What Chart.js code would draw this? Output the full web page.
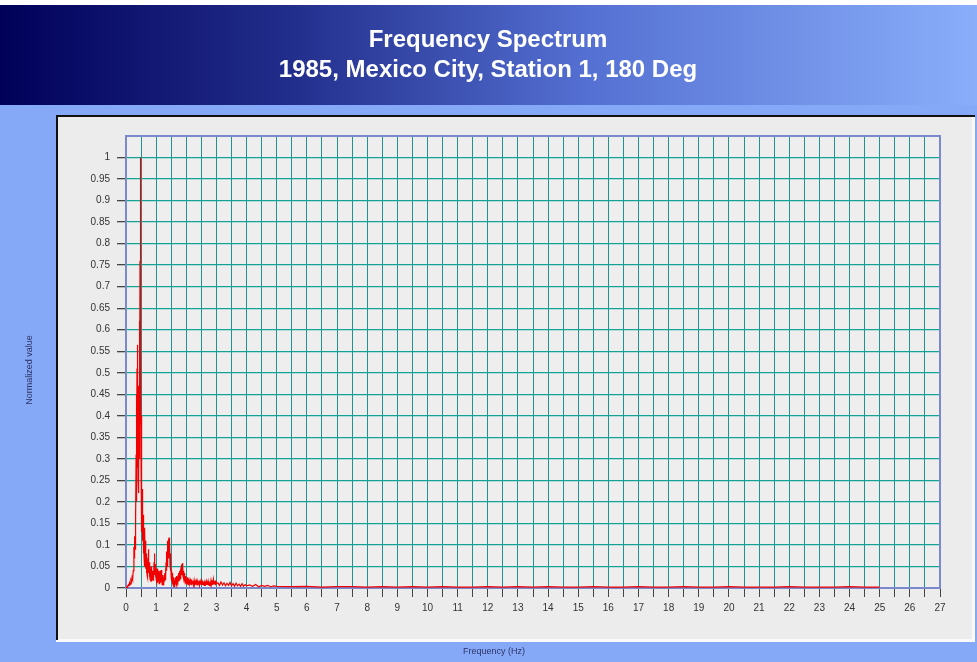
<!DOCTYPE html>
<html>
<head>
<meta charset="utf-8">
<title>Frequency Spectrum</title>
<script src="https://cdn.jsdelivr.net/npm/chart.js@4.4.1/dist/chart.umd.min.js"></script>
<style>
  html, body { margin: 0; padding: 0; background: #86a9f7; }
  #wrap { width: 977px; height: 662px; }
</style>
</head>
<body>
<div id="wrap"><canvas id="spectrum" width="977" height="662"></canvas></div>
<script>
// Header text
const titleLines = ['Frequency Spectrum', '1985, Mexico City, Station 1, 180 Deg'];
const xAxisTitle = 'Frequency (Hz)';
const yAxisTitle = 'Normalized value';

// Axis ranges and tick steps
const xMin = 0, xMax = 27, xStep = 0.5;
const yMin = 0, yMax = 1.05, yStep = 0.05, yLabelMax = 1;

// Spectrum samples: frequency (Hz)
const freqHz = [
  0.00, 0.02, 0.04, 0.06, 0.08, 0.10, 0.12, 0.14, 0.16, 0.18, 0.20, 0.22, 0.24,
  0.260, 0.265, 0.270, 0.275, 0.280, 0.285, 0.290, 0.295, 0.300, 0.305,
  0.310, 0.315, 0.320, 0.325, 0.330, 0.335, 0.340, 0.345, 0.350, 0.355,
  0.360, 0.365, 0.370, 0.375, 0.380, 0.385, 0.390, 0.395, 0.400, 0.405,
  0.410, 0.415, 0.420, 0.425, 0.430, 0.435, 0.440, 0.445, 0.450, 0.455,
  0.460, 0.465, 0.470, 0.475, 0.480, 0.485, 0.490, 0.495, 0.500, 0.505,
  0.510, 0.515, 0.520, 0.525, 0.530, 0.535, 0.540, 0.545, 0.550, 0.555,
  0.560, 0.565, 0.570, 0.575, 0.580, 0.585, 0.590, 0.595, 0.600, 0.605,
  0.610, 0.615, 0.620,
  0.63, 0.64, 0.65, 0.66, 0.67, 0.68, 0.69, 0.70, 0.71, 0.72,
  0.73, 0.74, 0.75, 0.76, 0.77, 0.78, 0.79, 0.80, 0.81, 0.82,
  0.83, 0.84, 0.85, 0.86, 0.87, 0.88, 0.89, 0.90, 0.91, 0.92,
  0.93, 0.94, 0.95, 0.96, 0.97, 0.98, 0.99, 1.00, 1.01, 1.02,
  1.03, 1.04, 1.05, 1.06, 1.07, 1.08, 1.09, 1.10, 1.11, 1.12,
  1.13, 1.14, 1.15, 1.16, 1.17, 1.18, 1.19, 1.20, 1.21, 1.22,
  1.23, 1.24, 1.25, 1.26, 1.27, 1.28, 1.29, 1.30, 1.31, 1.32,
  1.33, 1.34, 1.35, 1.36, 1.37, 1.38, 1.39, 1.40, 1.41, 1.42,
  1.43, 1.44, 1.45, 1.46, 1.47, 1.48, 1.49, 1.50, 1.51, 1.52,
  1.53, 1.54, 1.55, 1.56, 1.57, 1.58, 1.59, 1.60, 1.61, 1.62,
  1.63, 1.64, 1.65, 1.66, 1.67, 1.68, 1.69, 1.70, 1.71, 1.72,
  1.73, 1.74, 1.75, 1.76, 1.77, 1.78, 1.79, 1.80, 1.81, 1.82,
  1.83, 1.84, 1.85, 1.86, 1.87, 1.88, 1.89, 1.90, 1.91, 1.92,
  1.93, 1.94, 1.95, 1.96, 1.97, 1.98, 1.99, 2.00, 2.01, 2.02,
  2.03, 2.04, 2.05, 2.06, 2.07, 2.08, 2.09, 2.10, 2.11, 2.12,
  2.14, 2.16, 2.18, 2.20, 2.22, 2.24, 2.26, 2.28, 2.30, 2.32,
  2.34, 2.36, 2.38, 2.40, 2.42, 2.44, 2.46, 2.48, 2.50, 2.52,
  2.54, 2.56, 2.58, 2.60, 2.62, 2.64, 2.66, 2.68, 2.70, 2.72,
  2.74, 2.76, 2.78, 2.80, 2.82, 2.84, 2.86, 2.88, 2.90, 2.92,
  2.94, 2.96, 2.98, 3.00,
  3.05, 3.10, 3.15, 3.20, 3.25, 3.30, 3.35, 3.40, 3.45, 3.50,
  3.55, 3.60, 3.65, 3.70, 3.75, 3.80, 3.85, 3.90, 3.95, 4.00,
  4.1, 4.2, 4.3, 4.4, 4.5, 4.6, 4.7, 4.8, 4.9, 5.0,
  5.5, 6.0, 6.5, 7.0, 7.5, 8.0, 8.5, 9.0, 9.5, 10.0,
  10.5, 11.0, 11.5, 12.0, 12.5, 13.0, 13.5, 14.0, 14.5, 15.0,
  15.5, 16.0, 16.5, 17.0, 17.5, 18.0, 18.5, 19.0, 19.5, 20.0,
  20.5, 21.0, 21.5, 22.0, 22.5, 23.0, 23.5, 24.0, 24.5, 25.0
];

// Spectrum samples: normalized amplitude
const normAmp = [
  0.000, 0.002, 0.004, 0.003, 0.008, 0.006, 0.012, 0.009, 0.018, 0.014, 0.025, 0.020, 0.040,
  0.060, 0.095, 0.070, 0.110, 0.085, 0.105, 0.075, 0.120, 0.090, 0.140,
  0.110, 0.180, 0.130, 0.170, 0.150, 0.310, 0.200, 0.320, 0.240, 0.450,
  0.300, 0.510, 0.350, 0.565, 0.280, 0.500, 0.320, 0.490, 0.250, 0.470,
  0.300, 0.420, 0.220, 0.380, 0.260, 0.450, 0.300, 0.520, 0.350, 0.620,
  0.400, 0.760, 0.450, 1.000, 0.500, 0.690, 0.380, 0.560, 0.280, 0.400,
  0.200, 0.280, 0.160, 0.240, 0.130, 0.200, 0.110, 0.170, 0.120, 0.230,
  0.110, 0.150, 0.090, 0.160, 0.100, 0.170, 0.080, 0.140, 0.070, 0.120,
  0.060, 0.100, 0.050,
  0.140, 0.060, 0.110, 0.045, 0.080, 0.035, 0.065, 0.030, 0.055, 0.025,
  0.070, 0.040, 0.090, 0.035, 0.060, 0.025, 0.045, 0.020, 0.040, 0.018,
  0.050, 0.022, 0.045, 0.015, 0.035, 0.020, 0.040, 0.018, 0.030, 0.025,
  0.060, 0.030, 0.080, 0.040, 0.055, 0.025, 0.045, 0.020, 0.040, 0.015,
  0.045, 0.020, 0.035, 0.012, 0.040, 0.018, 0.030, 0.010, 0.035, 0.015,
  0.040, 0.012, 0.030, 0.020, 0.042, 0.015, 0.028, 0.008, 0.030, 0.010,
  0.025, 0.006, 0.020, 0.010, 0.030, 0.015, 0.035, 0.020, 0.045, 0.030,
  0.060, 0.040, 0.085, 0.050, 0.100, 0.060, 0.110, 0.070, 0.115, 0.080,
  0.117, 0.070, 0.105, 0.055, 0.080, 0.040, 0.060, 0.025, 0.040, 0.015,
  0.035, 0.010, 0.030, 0.008, 0.025, 0.005, 0.020, 0.004, 0.018, 0.006,
  0.022, 0.008, 0.025, 0.010, 0.020, 0.006, 0.028, 0.012, 0.025, 0.010,
  0.030, 0.015, 0.035, 0.018, 0.030, 0.020, 0.040, 0.022, 0.045, 0.025,
  0.050, 0.030, 0.055, 0.035, 0.058, 0.030, 0.050, 0.025, 0.040, 0.020,
  0.035, 0.018, 0.030, 0.015, 0.028, 0.012, 0.025, 0.010, 0.022, 0.012,
  0.025, 0.010, 0.020, 0.008, 0.022, 0.012, 0.018, 0.008, 0.020, 0.010,
  0.018, 0.008, 0.020, 0.010, 0.016, 0.007, 0.018, 0.009, 0.015, 0.008,
  0.016, 0.007, 0.014, 0.009, 0.017, 0.006, 0.015, 0.008, 0.016, 0.007,
  0.014, 0.008, 0.015, 0.006, 0.013, 0.009, 0.016, 0.007, 0.014, 0.008,
  0.012, 0.006, 0.015, 0.008, 0.018, 0.009, 0.014, 0.007, 0.020, 0.010,
  0.016, 0.008, 0.018, 0.010,
  0.012, 0.006, 0.014, 0.007, 0.012, 0.005, 0.011, 0.006, 0.013, 0.005,
  0.010, 0.004, 0.011, 0.005, 0.009, 0.004, 0.010, 0.004, 0.008, 0.005,
  0.007, 0.004, 0.008, 0.003, 0.006, 0.004, 0.006, 0.003, 0.005, 0.004,
  0.003, 0.004, 0.002, 0.003, 0.003, 0.002, 0.003, 0.002, 0.003, 0.002,
  0.003, 0.002, 0.002, 0.003, 0.002, 0.003, 0.002, 0.003, 0.002, 0.002,
  0.003, 0.002, 0.002, 0.003, 0.002, 0.002, 0.003, 0.002, 0.002, 0.003,
  0.002, 0.002, 0.002, 0.003, 0.002, 0.002, 0.002, 0.003, 0.002, 0.002
];

const points = freqHz.map((f, i) => ({ x: f, y: normAmp[i] }));

// Backdrop: header band, blue page and the grey plotting panel
const backdrop = {
  id: 'backdrop',
  beforeDraw(chart) {
    const ctx = chart.ctx;
    const W = chart.width, H = chart.height;
    ctx.save();
    ctx.fillStyle = '#86a9f7';
    ctx.fillRect(0, 0, W, H);
    ctx.fillStyle = '#ffffff';
    ctx.fillRect(0, 0, W, 5);
    const g = ctx.createLinearGradient(0, 0, W, 0);
    g.addColorStop(0, '#000058');
    g.addColorStop(0.3, '#222e8c');
    g.addColorStop(0.6, '#5470d2');
    g.addColorStop(1, '#8aaefa');
    ctx.fillStyle = g;
    ctx.fillRect(0, 5, W, 100);
    // panel
    ctx.fillStyle = '#fafafa';
    ctx.fillRect(56, 115, 919, 527);
    ctx.fillStyle = '#ececec';
    ctx.fillRect(58, 117, 914, 522);
    ctx.fillStyle = '#111111';
    ctx.fillRect(56, 115, 919, 2);
    ctx.fillRect(56, 115, 2, 525);
    // plot background
    const a = chart.chartArea;
    ctx.fillStyle = '#eeeeee';
    ctx.fillRect(a.left, a.top, a.right - a.left, a.bottom - a.top);
    ctx.restore();
  },
  beforeDatasetsDraw(chart) {
    const ctx = chart.ctx;
    const a = chart.chartArea;
    ctx.save();
    ctx.strokeStyle = '#7a88cc';
    ctx.lineWidth = 2;
    ctx.strokeRect(a.left, a.top, a.right - a.left, a.bottom - a.top);
    ctx.restore();
  },
  afterDraw(chart) {
    const ctx = chart.ctx;
    ctx.save();
    ctx.fillStyle = '#ffffff';
    ctx.textAlign = 'center';
    ctx.textBaseline = 'middle';
    ctx.font = 'bold 24px "Liberation Sans", Arial, sans-serif';
    ctx.fillText(titleLines[0], 488, 40);
    ctx.fillText(titleLines[1], 488, 70);

    ctx.font = '9px "Liberation Sans", Arial, sans-serif';
    ctx.fillStyle = '#2c3366';
    ctx.fillText(xAxisTitle, 494, 652);
    ctx.translate(30, 370);
    ctx.rotate(-Math.PI / 2);
    ctx.fillText(yAxisTitle, 0, 0);
    ctx.restore();
  }
};

new Chart(document.getElementById('spectrum'), {
  type: 'line',
  data: {
    datasets: [{
      data: points,
      borderColor: '#f00000',
      borderWidth: 1.2,
      pointRadius: 0,
      tension: 0,
      fill: false
    }]
  },
  options: {
    responsive: false,
    animation: false,
    layout: { padding: { top: 136, right: 37, left: 0, bottom: 0 } },
    plugins: {
      legend: { display: false },
      tooltip: { enabled: false },
      title: { display: false }
    },
    scales: {
      x: {
        type: 'linear',
        min: xMin,
        max: xMax,
        afterFit(scale) { scale.height = 74; },
        ticks: {
          stepSize: xStep,
          autoSkip: false,
          maxRotation: 0,
          padding: 5,
          color: '#333333',
          font: { family: '"Liberation Sans", Arial, sans-serif', size: 10 },
          callback: v => (Number.isInteger(v) ? String(v) : '')
        },
        grid: {
          color: '#1f9292',
          lineWidth: 1,
          tickColor: '#444444',
          tickLength: 9,
          drawTicks: true
        },
        border: { display: true, color: '#7a88cc', width: 2 }
      },
      y: {
        type: 'linear',
        min: yMin,
        max: yMax,
        afterFit(scale) { scale.width = 126; },
        afterBuildTicks(scale) {
          scale.ticks = scale.ticks.filter(t => t.value <= yLabelMax + 1e-6);
        },
        ticks: {
          stepSize: yStep,
          autoSkip: false,
          padding: 7,
          color: '#333333',
          font: { family: '"Liberation Sans", Arial, sans-serif', size: 10 },
          callback: v => String(Math.round(v * 100) / 100)
        },
        grid: {
          color: '#12a296',
          lineWidth: 1.3,
          tickColor: '#444444',
          tickLength: 9,
          drawTicks: true
        },
        border: { display: true, color: '#7a88cc', width: 2 }
      }
    }
  },
  plugins: [backdrop]
});
</script>
</body>
</html>
